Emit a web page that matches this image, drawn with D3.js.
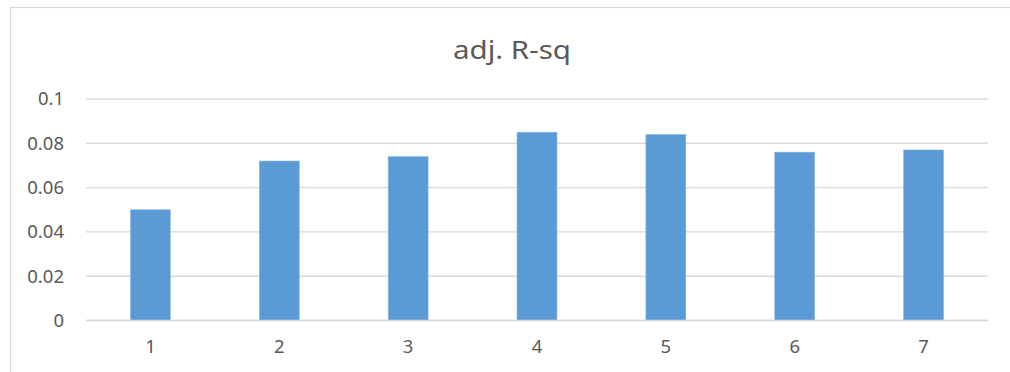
<!DOCTYPE html>
<html>
<head>
<meta charset="utf-8">
<script src="https://cdn.jsdelivr.net/npm/d3@7"></script>
<style>
  html, body { margin: 0; padding: 0; background: #ffffff; }
  svg { display: block; }
</style>
</head>
<body>
<div id="chart"></div>
<script>
// Adjusted R-squared for each of the seven models
const categories = ["1", "2", "3", "4", "5", "6", "7"];
const adjRsq = [0.050, 0.072, 0.074, 0.085, 0.084, 0.076, 0.077];
const yTicks = [0, 0.02, 0.04, 0.06, 0.08, 0.1];
const yTickLabels = ["0", "0.02", "0.04", "0.06", "0.08", "0.1"];
const chartTitle = "adj. R-sq";

const W = 1010, H = 372;
const margin = { left: 86, right: 22, top: 99, bottom: 51.5 };
const plotW = W - margin.left - margin.right;
const plotH = H - margin.top - margin.bottom;
const textColor = "#595959";
const gridColor = "#d9d9d9";
const barColor = "#5b9bd5";
const font = "'Noto Sans', 'Open Sans', sans-serif";

const svg = d3.select("#chart").append("svg")
  .attr("width", W).attr("height", H);

// chart area frame
svg.append("rect")
  .attr("x", 10.5).attr("y", 7.5)
  .attr("width", W + 20).attr("height", H + 40)
  .attr("fill", "#ffffff")
  .attr("stroke", gridColor).attr("stroke-width", 1.3);

const x = d3.scaleBand()
  .domain(categories)
  .range([margin.left, margin.left + plotW])
  .paddingInner(0.69)
  .paddingOuter(0.345);

const y = d3.scaleLinear()
  .domain([0, 0.1])
  .range([margin.top + plotH, margin.top]);

// horizontal gridlines
svg.append("g")
  .selectAll("line")
  .data(yTicks)
  .join("line")
  .attr("x1", margin.left).attr("x2", margin.left + plotW)
  .attr("y1", d => y(d)).attr("y2", d => y(d))
  .attr("stroke", gridColor).attr("stroke-width", 1.4);

// y-axis labels
const yAxis = d3.axisLeft(y)
  .tickValues(yTicks)
  .tickFormat((d, i) => yTickLabels[i])
  .tickSize(0)
  .tickPadding(22);
const gy = svg.append("g")
  .attr("transform", `translate(${margin.left},0)`)
  .call(yAxis);
gy.select(".domain").remove();
gy.selectAll("text")
  .attr("fill", textColor)
  .style("font-family", font)
  .style("font-size", "18.5px");

// bars
svg.append("g")
  .selectAll("rect")
  .data(adjRsq)
  .join("rect")
  .attr("x", (d, i) => x(categories[i]))
  .attr("y", d => y(d))
  .attr("width", x.bandwidth())
  .attr("height", d => y(0) - y(d))
  .attr("fill", barColor)
  .attr("stroke", "#8db9e2")
  .attr("stroke-width", 0.6);

// x-axis labels
const xAxis = d3.axisBottom(x).tickSize(0).tickPadding(19);
const gx = svg.append("g")
  .attr("transform", `translate(0,${y(0)})`)
  .call(xAxis);
gx.select(".domain").remove();
gx.selectAll("text")
  .attr("fill", textColor)
  .style("font-family", font)
  .style("font-size", "18.5px");

// baseline
svg.append("line")
  .attr("x1", margin.left).attr("x2", margin.left + plotW)
  .attr("y1", y(0)).attr("y2", y(0))
  .attr("stroke", gridColor).attr("stroke-width", 1.4);

// title
svg.append("text")
  .attr("x", 512).attr("y", 58.5)
  .attr("text-anchor", "middle")
  .attr("fill", textColor)
  .style("font-family", font)
  .style("font-size", "25px")
  .attr("textLength", 118)
  .attr("lengthAdjust", "spacingAndGlyphs")
  .text(chartTitle);
</script>
</body>
</html>
